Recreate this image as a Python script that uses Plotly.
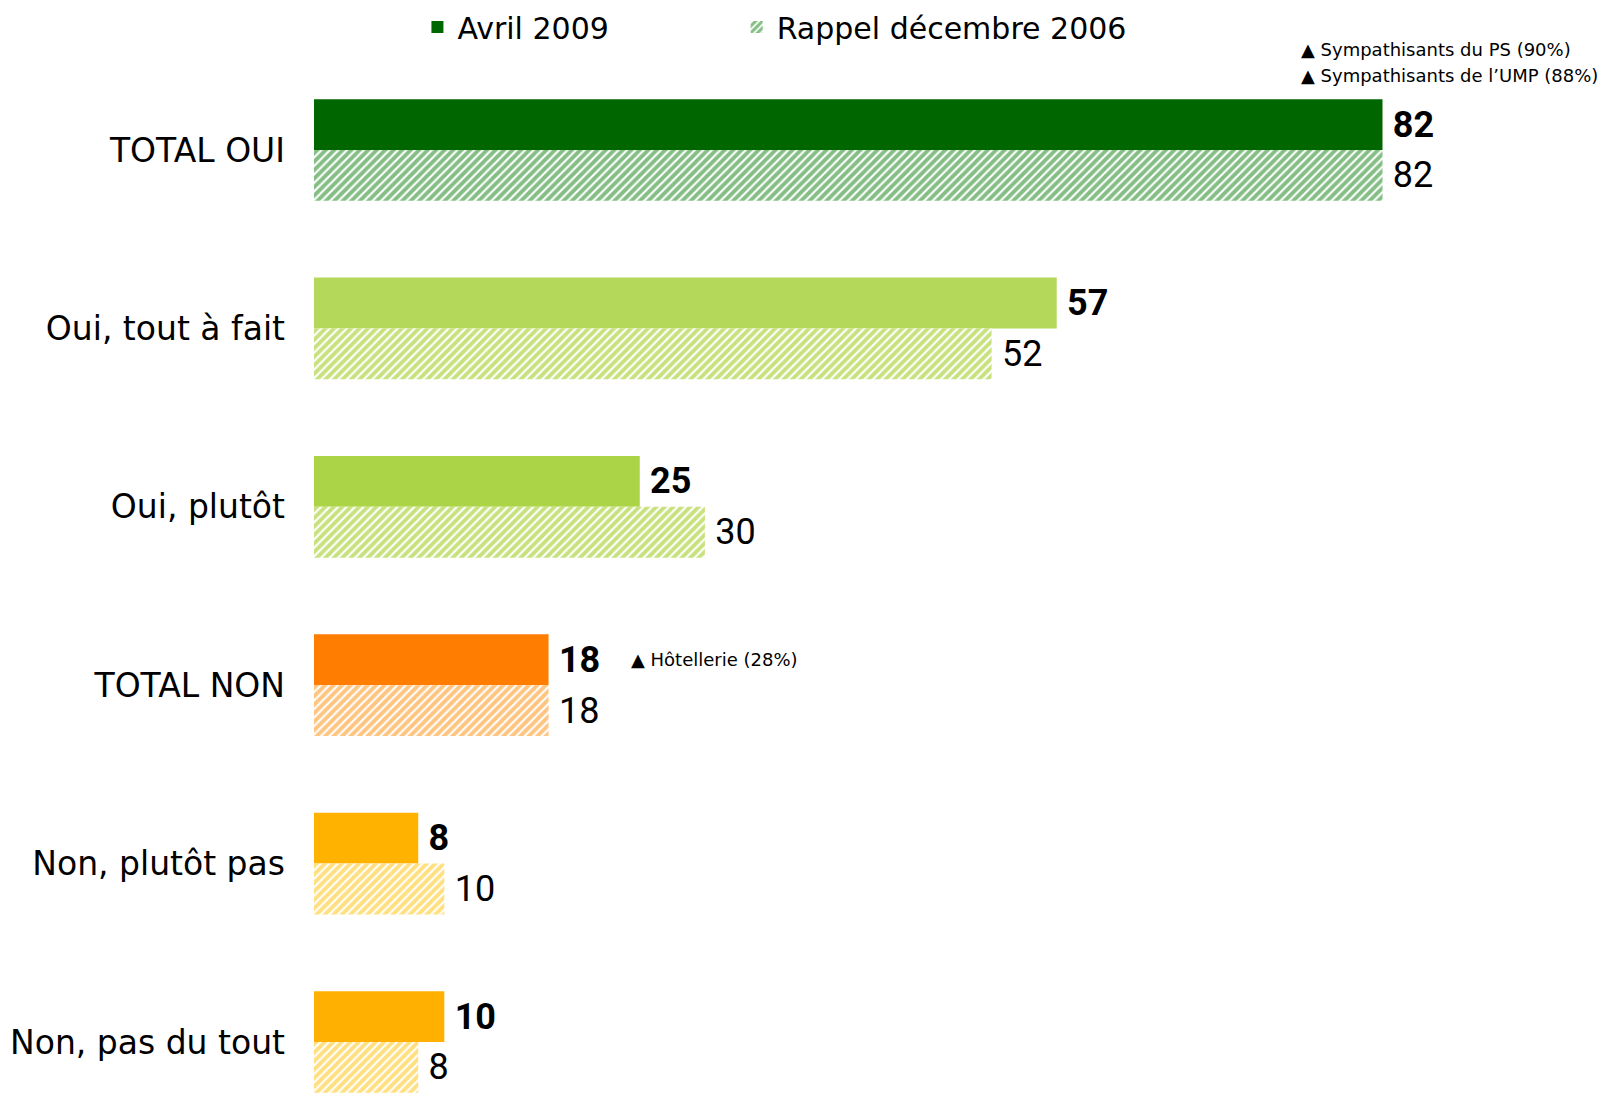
import plotly.graph_objects as go

# Survey answers (top to bottom) and the two waves
categories = ["TOTAL OUI", "Oui, tout à fait", "Oui, plutôt",
              "TOTAL NON", "Non, plutôt pas", "Non, pas du tout"]
avril_2009 = [82, 57, 25, 18, 8, 10]
decembre_2006 = [82, 52, 30, 18, 10, 8]

series_names = ["Avril 2009", "Rappel décembre 2006"]

# Fill colours per answer row
solid_colors = ["#006600", "#b4d95a", "#acd447", "#ff7d00", "#ffb300", "#ffb000"]
hatch_colors = ["#0a7d0a", "#8fc400", "#8fc400", "#ff8a00", "#ffbf00", "#ffbf00"]

TEXT_FONT = "'DejaVu Sans', Verdana, sans-serif"
NUM_FONT = "Roboto, 'DejaVu Sans', sans-serif"

fig = go.Figure()

fig.add_trace(go.Bar(
    name=series_names[0],
    legend="legend",
    y=categories,
    x=avril_2009,
    orientation="h",
    marker=dict(color=solid_colors, line=dict(width=0)),
    text=avril_2009,
    texttemplate="\u2009%{x}",
    textposition="outside",
    textfont=dict(family=NUM_FONT, size=36, color="#000000", weight="bold"),
    cliponaxis=False,
))

fig.add_trace(go.Bar(
    name=series_names[1],
    legend="legend2",
    y=categories,
    x=decembre_2006,
    orientation="h",
    marker=dict(
        color="#ffffff",
        line=dict(width=0),
        pattern=dict(shape="/", fgcolor=hatch_colors, bgcolor="#ffffff",
                     size=6, solidity=0.65, fillmode="overlay"),
    ),
    text=decembre_2006,
    texttemplate="\u2009%{x}",
    textposition="outside",
    textfont=dict(family=NUM_FONT, size=36, color="#000000"),
    cliponaxis=False,
))

# Sub-group notes
note_font = dict(family=TEXT_FONT, size=18, color="#000000")
fig.add_annotation(
    xref="paper", yref="paper", x=0.771, y=1.01,
    xanchor="left", yanchor="middle", align="left",
    text="▲ Sympathisants du PS (90%)", showarrow=False, font=note_font,
)
fig.add_annotation(
    xref="paper", yref="paper", x=0.771, y=0.985,
    xanchor="left", yanchor="middle", align="left",
    text="▲ Sympathisants de l’UMP (88%)", showarrow=False, font=note_font,
)
fig.add_annotation(
    xref="x", yref="y", x=24.2, y="TOTAL NON", yshift=26,
    xanchor="left", yanchor="middle", align="left",
    text="▲ Hôtellerie (28%)", showarrow=False, font=note_font,
)

legend_style = dict(
    orientation="h", y=1.032, xanchor="left", yanchor="middle",
    font=dict(family=TEXT_FONT, size=30, color="#000000"),
    bgcolor="rgba(0,0,0,0)",
)

fig.update_layout(
    width=1606, height=1093,
    margin=dict(l=314, r=15, t=60, b=0),
    paper_bgcolor="#ffffff", plot_bgcolor="#ffffff",
    barmode="group", bargap=0.43, bargroupgap=0,
    font=dict(family=TEXT_FONT, color="#000000"),
    showlegend=True,
    legend=dict(x=0.081, **legend_style),
    legend2=dict(x=0.331, **legend_style),
    xaxis=dict(range=[0, 98], visible=False, fixedrange=True),
    yaxis=dict(
        type="category", categoryorder="array", categoryarray=categories,
        range=[5.286, -0.5045],
        showgrid=False, zeroline=False, showline=False, ticks="",
        tickfont=dict(family=TEXT_FONT, size=33, color="#000000"),
        ticklabelstandoff=28,
    ),
)

fig.write_html("out.html")
